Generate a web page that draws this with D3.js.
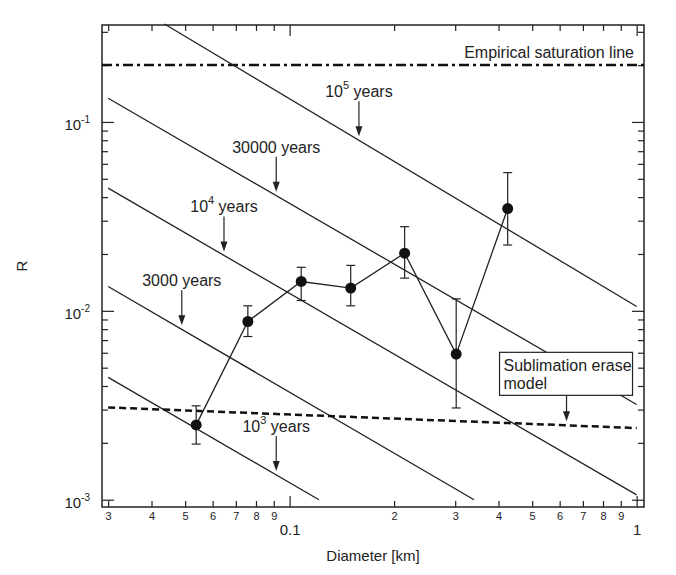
<!DOCTYPE html>
<html>
<head>
<meta charset="utf-8">
<script src="https://cdn.jsdelivr.net/npm/d3@7"></script>
<style>
body { margin:0; background:#fff; }
svg { font-family: "Liberation Sans", Arial, sans-serif; }
.domain { display:none; }
.tick line { stroke:#222; stroke-width:1.2; }
</style>
</head>
<body>
<div id="chart"></div>
<script>
/*
    Crater density R vs diameter, log-log, with isochrons
*/

var diameter = [0.0538, 0.0758, 0.108, 0.150, 0.2145, 0.302, 0.425];
var ratio    = [0.00249, 0.00878, 0.0143, 0.0132, 0.0202, 0.0059, 0.0348];
var errHigh  = [0.00314, 0.01063, 0.0170, 0.0174, 0.0279, 0.01157, 0.0539];
var errLow   = [0.00197, 0.00731, 0.01134, 0.01063, 0.0149, 0.00306, 0.0223];

// isochron lines, one per age: start / end points
var ageNames   = ["10^3", "3000", "10^4", "30000", "10^5"];
var lineStartD = [0.030, 0.030, 0.030, 0.030, 0.0436];
var lineStartR = [0.00444, 0.01346, 0.0446, 0.1334, 0.330];
var lineEndD   = [0.1215, 0.34, 1.0, 1.0, 1.0];
var lineEndR   = [0.001, 0.001, 0.00106, 0.00319, 0.01055];
// where the arrow of each age label points
var arrowD     = [0.0915, 0.0489, 0.0647, 0.0915, 0.1584];

// empirical saturation and sublimation erase model
var saturationR = 0.2;
var sublimD = [0.030, 1.0];
var sublimR = [0.00308, 0.002395];
var sublimArrowD = 0.628;

// ticks
var xMinorTicks  = [0.03,0.04,0.05,0.06,0.07,0.08,0.09,0.2,0.3,0.4,0.5,0.6,0.7,0.8,0.9];
var xMinorLabels = ["3","4","5","6","7","8","9","2","3","4","5","6","7","8","9"];
var xMajorTicks  = [0.1, 1];
var xMajorLabels = ["0.1", "1"];
var yMajorTicks  = [0.001, 0.01, 0.1];
var yMajorExp    = ["-3", "-2", "-1"];
var yMinorTicks  = [0.002,0.003,0.004,0.005,0.006,0.007,0.008,0.009,
                    0.02,0.03,0.04,0.05,0.06,0.07,0.08,0.09,0.2,0.3];

// Set the dimensions and margins of graph
var margin = {left:102, right:32, top:25, bottom:68},
    width = 676 - margin.left - margin.right,
    height = 575 - margin.top - margin.bottom;

var x = d3.scaleLog().domain([0.0288, 1.05]).range([0, width]);
var y = d3.scaleLog().domain([0.000915, 0.326]).range([height, 0]);

var svg = d3.select("#chart").append("svg")
    .attr("width", 676)
    .attr("height", 575);

var chart = svg.append("g")
    .attr("transform", "translate(" + margin.left + "," + margin.top + ")");

// axes, ticks all pointing inwards
chart.append("g")
    .attr("transform", "translate(0," + height + ")")
    .call(d3.axisBottom(x).tickValues(xMinorTicks).tickSize(-6).tickPadding(5)
        .tickFormat(function(d, i){ return xMinorLabels[i]; }))
    .attr("font-size", 11).attr("font-family", null);
chart.append("g")
    .attr("transform", "translate(0," + height + ")")
    .call(d3.axisBottom(x).tickValues(xMajorTicks).tickSize(-11).tickPadding(17)
        .tickFormat(function(d, i){ return xMajorLabels[i]; }))
    .attr("font-size", 15).attr("font-family", null);
chart.append("g")
    .call(d3.axisTop(x).tickValues(xMinorTicks).tickSize(-6).tickFormat(""));
chart.append("g")
    .call(d3.axisTop(x).tickValues(xMajorTicks).tickSize(-11).tickFormat(""));

chart.append("g")
    .call(d3.axisLeft(y).tickValues(yMinorTicks).tickSize(-6).tickFormat(""));
var yAxis = chart.append("g")
    .call(d3.axisLeft(y).tickValues(yMajorTicks).tickSize(-12).tickPadding(12))
    .attr("font-size", 15).attr("font-family", null);
yAxis.selectAll(".tick text").each(function(d, i) {
    var t = d3.select(this).text(null).attr("dy", 8).attr("fill", "#222");
    t.append("tspan").text("10");
    t.append("tspan").attr("dy", -7).attr("font-size", 10).text(yMajorExp[i]);
});
chart.append("g")
    .attr("transform", "translate(" + width + ",0)")
    .call(d3.axisRight(y).tickValues(yMinorTicks).tickSize(-6).tickFormat(""));
chart.append("g")
    .attr("transform", "translate(" + width + ",0)")
    .call(d3.axisRight(y).tickValues(yMajorTicks).tickSize(-12).tickFormat(""));

chart.selectAll(".tick text").attr("fill", "#222");

// frame
chart.append("rect")
    .attr("width", width).attr("height", height)
    .attr("fill", "none").attr("stroke", "#222").attr("stroke-width", 1.5);

// axis titles
svg.append("text")
    .attr("x", margin.left + width / 2).attr("y", 561)
    .attr("text-anchor", "middle").attr("font-size", 15).attr("fill", "#222")
    .text("Diameter [km]");
svg.append("text")
    .attr("transform", "translate(27," + (margin.top + height / 2) + ") rotate(-90)")
    .attr("text-anchor", "middle").attr("font-size", 15).attr("fill", "#222")
    .text("R");

// saturation line
chart.append("line")
    .attr("x1", 0).attr("x2", width)
    .attr("y1", y(saturationR)).attr("y2", y(saturationR))
    .attr("stroke", "#111").attr("stroke-width", 2.5)
    .attr("stroke-dasharray", "10,4,3,4");
chart.append("text")
    .attr("x", width - 10).attr("y", y(saturationR) - 7)
    .attr("text-anchor", "end").attr("font-size", 16).attr("fill", "#222")
    .text("Empirical saturation line");

// isochrons
var iso = d3.line()
    .x(function(d){ return x(d[0]); })
    .y(function(d){ return y(d[1]); });

// R on a straight (log-log) line at diameter d
function lineAt(d0, r0, d1, r1, d) {
    var t = Math.log(d / d0) / Math.log(d1 / d0);
    return Math.exp(Math.log(r0) + t * Math.log(r1 / r0));
}

function arrow(g, px, yTop, yTip) {
    g.append("line")
        .attr("x1", px).attr("x2", px).attr("y1", yTop).attr("y2", yTip - 8)
        .attr("stroke", "#222").attr("stroke-width", 1.2);
    g.append("path")
        .attr("d", "M" + (px - 3.5) + "," + (yTip - 10) + "L" + (px + 3.5) + "," + (yTip - 10) +
                   "L" + px + "," + yTip + "Z")
        .attr("fill", "#222");
}

ageNames.forEach(function(name, i) {
    chart.append("path")
        .attr("d", iso([[lineStartD[i], lineStartR[i]], [lineEndD[i], lineEndR[i]]]))
        .attr("fill", "none").attr("stroke", "#222").attr("stroke-width", 1.3);

    var px = x(arrowD[i]);
    var tip = y(lineAt(lineStartD[i], lineStartR[i], lineEndD[i], lineEndR[i], arrowD[i])) - 4;
    var top = tip - 35;
    arrow(chart, px, top, tip);

    var t = chart.append("text")
        .attr("x", px).attr("y", top - 4)
        .attr("text-anchor", "middle").attr("font-size", 16).attr("fill", "#222");
    if (name.indexOf("^") > 0) {
        var parts = name.split("^");
        t.append("tspan").text(parts[0]);
        t.append("tspan").attr("dy", -8).attr("font-size", 11).text(parts[1]);
        t.append("tspan").attr("dy", 8).text(" years");
    } else {
        t.text(name + " years");
    }
});

// sublimation erase model
chart.append("path")
    .attr("d", iso([[sublimD[0], sublimR[0]], [sublimD[1], sublimR[1]]]))
    .attr("fill", "none").attr("stroke", "#111").attr("stroke-width", 2.5)
    .attr("stroke-dasharray", "7,4");

var sx = x(sublimArrowD);
var stip = y(lineAt(sublimD[0], sublimR[0], sublimD[1], sublimR[1], sublimArrowD)) - 4;
var stop = stip - 26;
arrow(chart, sx, stop, stip);
chart.append("rect")
    .attr("x", sx - 67).attr("y", stop - 43)
    .attr("width", 133).attr("height", 43)
    .attr("fill", "#fff").attr("stroke", "#222").attr("stroke-width", 1.2);
chart.append("text")
    .attr("x", sx - 63).attr("y", stop - 24)
    .attr("font-size", 16).attr("fill", "#222")
    .text("Sublimation erase");
chart.append("text")
    .attr("x", sx - 63).attr("y", stop - 6.5)
    .attr("font-size", 16).attr("fill", "#222")
    .text("model");

// data: connecting line, error bars, points
var dataLine = d3.line()
    .x(function(d, i){ return x(diameter[i]); })
    .y(function(d){ return y(d); });

chart.append("path")
    .datum(ratio)
    .attr("d", dataLine)
    .attr("fill", "none").attr("stroke", "#222").attr("stroke-width", 1.3);

var pts = chart.selectAll(".pt")
    .data(ratio)
    .enter().append("g").attr("class", "pt");

pts.append("line")
    .attr("x1", function(d, i){ return x(diameter[i]); })
    .attr("x2", function(d, i){ return x(diameter[i]); })
    .attr("y1", function(d, i){ return y(errLow[i]); })
    .attr("y2", function(d, i){ return y(errHigh[i]); })
    .attr("stroke", "#222").attr("stroke-width", 1.2);
[errLow, errHigh].forEach(function(arr) {
    pts.append("line")
        .attr("x1", function(d, i){ return x(diameter[i]) - 4.5; })
        .attr("x2", function(d, i){ return x(diameter[i]) + 4.5; })
        .attr("y1", function(d, i){ return y(arr[i]); })
        .attr("y2", function(d, i){ return y(arr[i]); })
        .attr("stroke", "#222").attr("stroke-width", 1.2);
});
pts.append("circle")
    .attr("cx", function(d, i){ return x(diameter[i]); })
    .attr("cy", function(d){ return y(d); })
    .attr("r", 5.5)
    .attr("fill", "#111");
</script>
</body>
</html>
